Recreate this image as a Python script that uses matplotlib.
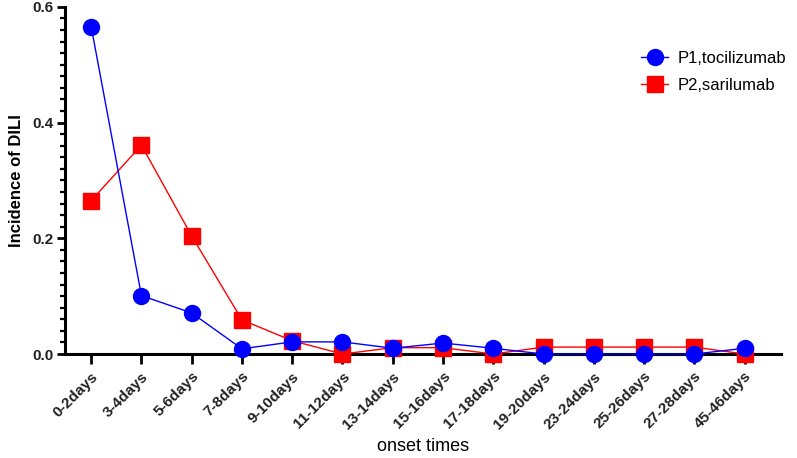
import matplotlib
matplotlib.use("Agg")
import matplotlib.pyplot as plt
from matplotlib.ticker import MultipleLocator

categories = ["0-2days", "3-4days", "5-6days", "7-8days", "9-10days", "11-12days",
              "13-14days", "15-16days", "17-18days", "19-20days", "23-24days",
              "25-26days", "27-28days", "45-46days"]
p1_tocilizumab = [0.566, 0.101, 0.071, 0.009, 0.021, 0.021, 0.010, 0.019, 0.010,
                  0.0, 0.0, 0.0, 0.0, 0.010]
p2_sarilumab = [0.265, 0.361, 0.204, 0.059, 0.023, 0.0, 0.011, 0.011, 0.0,
                0.012, 0.012, 0.012, 0.012, 0.0]

plt.rcParams['font.family'] = ['Liberation Sans', 'DejaVu Sans']

fig = plt.figure(figsize=(7.97, 4.58), dpi=100)
ax = fig.add_axes([0.0816, 0.227, 0.898, 0.758])

x = list(range(len(categories)))
ax.plot(x, p1_tocilizumab, color='#0000ff', lw=1.0, marker='o', markersize=11.5,
        label='P1,tocilizumab', clip_on=False, zorder=4)
ax.plot(x, p2_sarilumab, color='#ff0000', lw=1.0, marker='s', markersize=11,
        label='P2,sarilumab', clip_on=False, zorder=3)

ax.set_xlim(-0.52, 13.72)
ax.set_ylim(0, 0.6)
ax.set_xticks(x)
ax.set_xticklabels(categories, rotation=45, ha='right', rotation_mode='anchor',
                   fontsize=11, fontweight='bold', color='#222222')
ax.set_yticks([0.0, 0.2, 0.4, 0.6])
ax.set_yticklabels(["0.0", "0.2", "0.4", "0.6"], fontsize=11, fontweight='bold',
                   color='#222222')
ax.yaxis.set_minor_locator(MultipleLocator(0.02))

for s in ['top', 'right']:
    ax.spines[s].set_visible(False)
for s in ['left', 'bottom']:
    ax.spines[s].set_linewidth(2.2)
    ax.spines[s].set_color('black')

ax.tick_params(axis='x', which='major', length=7, width=2, direction='out', pad=4)
ax.tick_params(axis='y', which='major', length=6, width=2, direction='out', pad=2)
ax.tick_params(axis='y', which='minor', length=3.5, width=1.6, direction='out')

ax.set_ylabel("Incidence of DILI", fontsize=12, fontweight='bold', labelpad=6)
ax.set_xlabel("onset times", fontsize=13, labelpad=5)

leg = ax.legend(loc='upper left', bbox_to_anchor=(0.79, 0.915), bbox_transform=fig.transFigure,
                frameon=False, fontsize=12, handlelength=1.6, handletextpad=0.6,
                labelspacing=0.75, borderpad=0.2)

fig.savefig("out.png", dpi=100)
